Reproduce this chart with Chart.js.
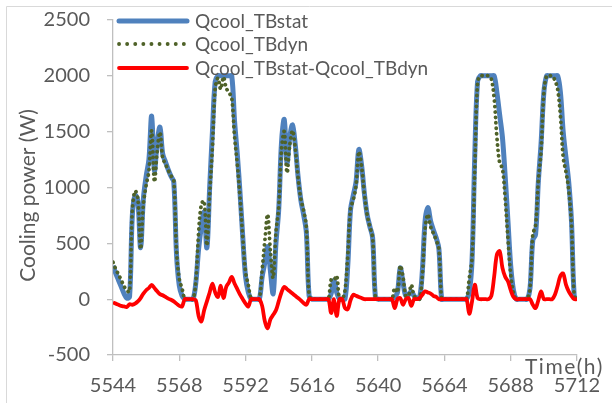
<!DOCTYPE html>
<html>
<head>
<meta charset="utf-8">
<script src="https://cdn.jsdelivr.net/npm/chart.js@4/dist/chart.umd.min.js"></script>
<style>
  html, body { margin: 0; padding: 0; background: #ffffff; }
  #wrap { position: relative; width: 612px; height: 403px; overflow: hidden; }
  canvas { display: block; }
</style>
</head>
<body>
<div id="wrap"><canvas id="c" width="612" height="403"></canvas></div>
<script>
// Simulation hours (h)
const hours = [
  5544,5545,5546,5547,5548,5549,5550,5551,5552,5553,5554,5555,
  5556,5557,5558,5559,5560,5561,5562,5563,5564,5565,5566,5567,
  5568,5569,5570,5571,5572,5573,5574,5575,5576,5577,5578,5579,
  5580,5581,5582,5583,5584,5585,5586,5587,5588,5589,5590,5591,
  5592,5593,5594,5595,5596,5597,5598,5599,5600,5601,5602,5603,
  5604,5605,5606,5607,5608,5609,5610,5611,5612,5613,5614,5615,
  5616,5617,5618,5619,5620,5621,5622,5623,5624,5625,5626,5627,
  5628,5629,5630,5631,5632,5633,5634,5635,5636,5637,5638,5639,
  5640,5641,5642,5643,5644,5645,5646,5647,5648,5649,5650,5651,
  5652,5653,5654,5655,5656,5657,5658,5659,5660,5661,5662,5663,
  5664,5665,5666,5667,5668,5669,5670,5671,5672,5673,5674,5675,
  5676,5677,5678,5679,5680,5681,5682,5683,5684,5685,5686,5687,
  5688,5689,5690,5691,5692,5693,5694,5695,5696,5697,5698,5699,
  5700,5701,5702,5703,5704,5705,5706,5707,5708,5709,5710,5711,
  5712
];

// Cooling power with static thermal bridges (W)
const qcoolTBstat = [
  300,230,170,110,50,10,20,750,930,880,
  460,900,1100,1250,1640,1150,1400,1540,1300,1230,
  1160,1100,1050,400,120,30,0,0,0,0,
  150,450,650,780,460,1000,1500,1950,2000,2000,
  2000,2000,2000,2000,1600,1300,950,550,200,60,
  0,0,0,0,200,330,470,250,50,500,
  800,1400,1610,1220,1450,1560,1380,1100,890,760,
  600,30,0,0,0,0,0,0,0,50,
  170,60,0,0,0,300,800,930,1050,1340,
  1200,950,760,650,550,20,0,0,0,0,
  0,0,20,60,280,150,30,40,70,30,
  10,10,250,700,820,700,620,550,450,0,
  0,0,0,0,0,0,0,0,0,60,
  350,1300,1950,2000,2000,2000,2000,2000,2000,1850,
  1650,1450,1100,700,300,80,0,0,0,0,
  0,100,530,580,1050,1400,1850,2000,2000,2000,
  2000,2000,1850,1500,1270,1050,700,30,0
];

// Cooling power with dynamic thermal bridges (W)
const qcoolTBdyn = [
  330,270,220,170,115,80,65,800,970,900,
  450,850,1020,1150,1510,1050,1330,1495,1265,1210,
  1155,1105,1070,440,180,95,0,0,0,0,
  160,600,850,880,480,940,1360,1890,1980,1880,
  1990,1890,1850,1800,1460,1210,910,550,240,125,
  0,0,0,0,260,530,760,430,190,600,
  820,1340,1500,1130,1380,1510,1350,1090,900,795,
  650,30,0,0,0,0,0,0,0,175,
  170,210,0,0,80,390,810,890,1020,1320,
  1190,950,760,650,550,20,0,0,0,0,
  0,0,100,60,300,200,30,30,130,30,
  10,0,210,630,760,650,590,530,450,0,
  0,0,0,0,0,0,0,0,0,190,
  370,1170,1940,2000,2000,2000,2000,1970,1800,1450,
  1220,1170,900,540,220,60,0,0,0,0,
  0,100,580,660,1060,1330,1850,2000,2000,2000,
  1960,1880,1640,1270,1140,980,670,30,0
];

// Difference static - dynamic (W)
const qcoolDiff = [
  -30,-40,-50,-60,-65,-70,-45,-50,-40,-20,
  10,50,80,100,128,100,70,45,35,20,
  5,-5,-20,-40,-60,-65,0,0,0,0,
  -10,-150,-200,-100,-20,60,140,60,20,120,
  10,110,150,200,140,90,40,0,-40,-65,
  0,0,0,0,-60,-200,-260,-180,-140,-100,
  -20,60,110,90,70,50,30,10,-10,-35,
  -50,0,0,0,0,0,0,0,0,-125,
  0,-150,0,0,-80,-90,-10,40,30,20,
  10,0,0,0,0,0,0,0,0,0,
  0,0,-80,0,10,-50,0,10,-60,0,
  0,10,40,70,60,50,30,20,0,0,
  0,0,0,0,0,0,0,0,0,-130,
  -20,130,10,0,0,0,0,30,200,400,
  430,280,200,160,80,20,0,0,0,0,
  0,0,-50,-80,-10,70,0,0,0,0,
  40,120,210,230,130,70,30,0,0
];

const seriesNames = ['Qcool_TBstat', 'Qcool_TBdyn', 'Qcool_TBstat-Qcool_TBdyn'];
const xTickValues = [5544, 5568, 5592, 5616, 5640, 5664, 5688, 5712];
const yTickValues = [-500, 0, 500, 1000, 1500, 2000, 2500];
const xTitle = 'Time(h)';
const yTitle = 'Cooling power (W)';

const textColor = '#595959';
const axisColor = '#BFBFBF';
const fontFamily = 'Lato, "Open Sans", sans-serif';

const toPoints = vals => vals.map((v, i) => ({ x: hours[i], y: v }));

// Legend entries drawn over the plot, plus axis titles and outer frame
const decorations = {
  id: 'decorations',
  beforeDraw(chart) {
    const ctx = chart.ctx;
    ctx.save();
    ctx.strokeStyle = '#D9D9D9';
    ctx.lineWidth = 1;
    ctx.beginPath();
    ctx.moveTo(6.5, 403);
    ctx.lineTo(6.5, 6.5);
    ctx.lineTo(612, 6.5);
    ctx.stroke();
    ctx.restore();
  },
  afterDraw(chart) {
    const ctx = chart.ctx;
    const area = chart.chartArea;
    ctx.save();

    // legend
    const rows = [21, 44, 68];
    const legendDash = [[], [0.1, 8], []];
    chart.data.datasets.forEach((ds, i) => {
      const y = rows[i];
      ctx.strokeStyle = ds.borderColor;
      ctx.lineWidth = ds.borderWidth;
      ctx.lineCap = 'round';
      ctx.setLineDash(legendDash[i]);
      ctx.beginPath();
      ctx.moveTo(area.left + 6, y);
      ctx.lineTo(area.left + 74, y);
      ctx.stroke();
      ctx.setLineDash([]);
      ctx.fillStyle = textColor;
      ctx.font = '19px ' + fontFamily;
      ctx.textAlign = 'left';
      ctx.textBaseline = 'middle';
      ctx.fillText(ds.label, area.left + 82, y + 1);
    });

    // y title
    ctx.save();
    ctx.translate(28, (area.top + area.bottom) / 2 + 8);
    ctx.rotate(-Math.PI / 2);
    ctx.fillStyle = textColor;
    ctx.font = '21px ' + fontFamily;
    ctx.textAlign = 'center';
    ctx.textBaseline = 'middle';
    ctx.fillText(yTitle, 0, 0);
    ctx.restore();

    // x title
    ctx.fillStyle = textColor;
    ctx.font = '21px ' + fontFamily;
    ctx.letterSpacing = '1.5px';
    ctx.textAlign = 'left';
    ctx.textBaseline = 'alphabetic';
    ctx.fillText(xTitle, area.right - 52, area.bottom + 19);
    ctx.restore();
  }
};

new Chart(document.getElementById('c'), {
  type: 'line',
  data: {
    datasets: [
      {
        label: seriesNames[0],
        data: toPoints(qcoolTBstat),
        borderColor: '#4F81BD',
        borderWidth: 5,
        pointRadius: 0,
        tension: 0.35,
        order: 3
      },
      {
        label: seriesNames[1],
        data: toPoints(qcoolTBdyn),
        borderColor: '#4F6228',
        borderWidth: 3.8,
        borderDash: [0.1, 5.4],
        borderCapStyle: 'round',
        pointRadius: 0,
        tension: 0.35,
        order: 2
      },
      {
        label: seriesNames[2],
        data: toPoints(qcoolDiff),
        borderColor: '#FF0000',
        borderWidth: 3.8,
        pointRadius: 0,
        tension: 0.35,
        order: 1
      }
    ]
  },
  options: {
    responsive: false,
    animation: false,
    devicePixelRatio: 1,
    layout: { padding: { top: 20, right: 35, bottom: 0, left: 0 } },
    plugins: { legend: { display: false }, tooltip: { enabled: false } },
    scales: {
      x: {
        type: 'linear',
        min: 5544,
        max: 5712,
        afterBuildTicks: s => { s.ticks = xTickValues.map(v => ({ value: v })); },
        afterFit: s => { s.height = 48; s.paddingLeft = 0; s.paddingRight = 0; },
        grid: { drawOnChartArea: false, tickLength: 6, color: axisColor, lineWidth: 1.3 },
        border: { color: axisColor, width: 1.3 },
        ticks: {
          padding: 13, color: textColor, maxRotation: 0, autoSkip: false,
          font: { family: fontFamily, size: 20 },
          callback: v => String(v)
        }
      },
      y: {
        min: -500,
        max: 2500,
        afterBuildTicks: s => { s.ticks = yTickValues.map(v => ({ value: v })); },
        afterFit: s => { s.width = 113; s.paddingTop = 0; s.paddingBottom = 0; },
        grid: { drawOnChartArea: false, tickLength: 6, color: axisColor, lineWidth: 1.3 },
        border: { color: axisColor, width: 1.3 },
        ticks: {
          padding: 17, color: textColor,
          font: { family: fontFamily, size: 20 },
          callback: v => String(v)
        }
      }
    }
  },
  plugins: [decorations]
});
</script>
</body>
</html>
